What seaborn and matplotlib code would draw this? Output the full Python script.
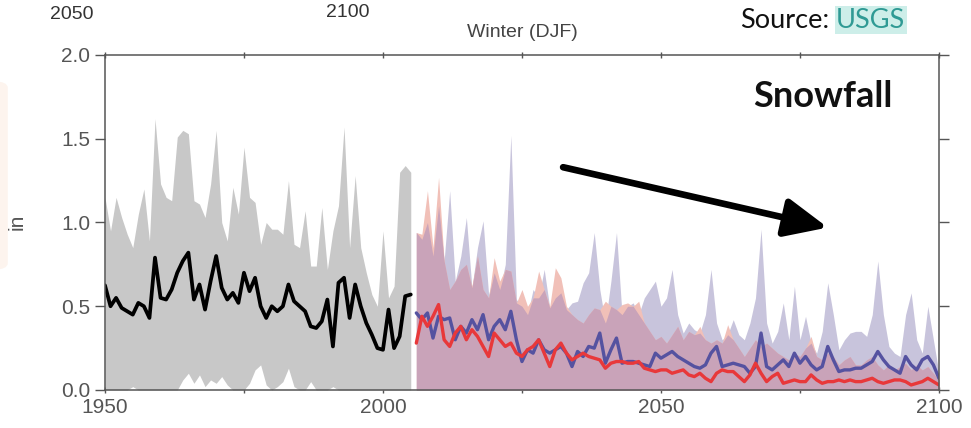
import numpy as np
import pandas as pd
import seaborn as sns
import matplotlib.pyplot as plt
from matplotlib.lines import Line2D
from matplotlib.patches import FancyBboxPatch

# historical period 1950-2005
hist_years = np.arange(1950, 2006)
hist_mean = [0.625, 0.50, 0.55, 0.49, 0.47, 0.45, 0.52, 0.50, 0.43, 0.79,
             0.55, 0.54, 0.60, 0.70, 0.77, 0.82, 0.54, 0.63, 0.48, 0.65,
             0.80, 0.61, 0.54, 0.58, 0.52, 0.70, 0.59, 0.67, 0.50, 0.43,
             0.50, 0.47, 0.50, 0.63, 0.53, 0.50, 0.47, 0.38, 0.37, 0.41,
             0.54, 0.26, 0.64, 0.67, 0.43, 0.63, 0.50, 0.40, 0.33, 0.25,
             0.24, 0.48, 0.25, 0.32, 0.56, 0.57]
hist_high = [1.15, 0.95, 1.15, 1.03, 0.93, 0.85, 1.05, 1.20, 0.89, 1.62,
             1.23, 1.15, 1.13, 1.51, 1.55, 1.53, 1.13, 1.11, 1.03, 1.23,
             1.55, 1.00, 0.89, 1.21, 1.05, 1.45, 1.15, 1.12, 0.87, 1.00,
             0.96, 0.96, 0.93, 1.25, 0.87, 0.85, 1.07, 0.74, 0.74, 1.09,
             0.72, 0.95, 1.10, 1.57, 0.85, 1.28, 0.85, 0.70, 0.57, 0.50,
             0.95, 0.55, 0.62, 1.30, 1.34, 1.30]
hist_low = [0, 0, 0, 0, 0, 0.02, 0, 0, 0, 0,
            0, 0, 0, 0, 0.06, 0.10, 0.04, 0.09, 0.02, 0.06,
            0.04, 0.08, 0.03, 0, 0, 0, 0.04, 0.12, 0.15, 0.03,
            0, 0.02, 0.05, 0.13, 0.02, 0, 0, 0.05, 0, 0,
            0, 0.02, 0, 0, 0, 0, 0, 0, 0, 0,
            0, 0, 0, 0, 0, 0]

# projections 2006-2100
fut_years = np.arange(2006, 2101)
blue_mean = [0.46, 0.42, 0.46, 0.31, 0.44, 0.42, 0.43, 0.30, 0.38, 0.34,
             0.42, 0.36, 0.45, 0.30, 0.38, 0.42, 0.36, 0.47, 0.30, 0.17,
             0.24, 0.22, 0.30, 0.24, 0.22, 0.24, 0.26, 0.22, 0.14, 0.23,
             0.20, 0.26, 0.25, 0.34, 0.16, 0.24, 0.31, 0.16, 0.17, 0.17,
             0.16, 0.15, 0.14, 0.22, 0.19, 0.21, 0.23, 0.20, 0.18, 0.16,
             0.14, 0.13, 0.15, 0.22, 0.26, 0.14, 0.15, 0.16, 0.15, 0.14,
             0.10, 0.14, 0.34, 0.14, 0.12, 0.15, 0.18, 0.14, 0.22, 0.16,
             0.20, 0.15, 0.12, 0.14, 0.26, 0.18, 0.11, 0.12, 0.12, 0.13,
             0.13, 0.15, 0.17, 0.23, 0.18, 0.14, 0.12, 0.10, 0.20, 0.15,
             0.12, 0.18, 0.20, 0.15, 0.07]
red_mean = [0.28, 0.44, 0.38, 0.44, 0.51, 0.30, 0.26, 0.34, 0.38, 0.30,
            0.36, 0.32, 0.26, 0.20, 0.34, 0.30, 0.26, 0.28, 0.22, 0.20,
            0.24, 0.26, 0.30, 0.22, 0.14, 0.24, 0.28, 0.22, 0.18, 0.20,
            0.22, 0.20, 0.19, 0.18, 0.13, 0.16, 0.17, 0.17, 0.16, 0.16,
            0.17, 0.13, 0.12, 0.11, 0.12, 0.12, 0.10, 0.11, 0.12, 0.09,
            0.08, 0.10, 0.07, 0.05, 0.10, 0.12, 0.11, 0.11, 0.08, 0.05,
            0.09, 0.16, 0.10, 0.05, 0.08, 0.10, 0.04, 0.05, 0.06, 0.05,
            0.05, 0.09, 0.06, 0.04, 0.05, 0.05, 0.06, 0.05, 0.06, 0.05,
            0.05, 0.06, 0.07, 0.05, 0.04, 0.05, 0.06, 0.06, 0.05, 0.03,
            0.04, 0.05, 0.07, 0.05, 0.03]
blue_high = [0.94, 0.90, 1.00, 0.80, 1.10, 0.77, 1.19, 0.65, 0.80, 1.03,
             0.61, 0.85, 1.01, 0.57, 0.70, 0.60, 0.75, 1.52, 0.54, 0.50,
             0.45, 0.60, 0.55, 0.72, 0.49, 0.55, 0.58, 0.48, 0.52, 0.53,
             0.64, 0.70, 0.94, 0.60, 0.40, 0.65, 0.94, 0.45, 0.50, 0.52,
             0.45, 0.55, 0.60, 0.65, 0.50, 0.55, 0.72, 0.45, 0.34, 0.40,
             0.36, 0.34, 0.45, 0.72, 0.40, 0.30, 0.33, 0.42, 0.33, 0.30,
             0.40, 0.55, 0.96, 0.40, 0.28, 0.35, 0.52, 0.30, 0.62, 0.30,
             0.44, 0.28, 0.22, 0.35, 0.64, 0.45, 0.24, 0.30, 0.34, 0.35,
             0.35, 0.32, 0.45, 0.77, 0.45, 0.26, 0.22, 0.20, 0.45, 0.58,
             0.30, 0.22, 0.50, 0.30, 0.10]
red_high = [0.94, 0.93, 1.19, 0.85, 1.27, 0.77, 0.60, 0.65, 0.72, 0.75,
            0.62, 0.80, 0.60, 0.55, 0.79, 0.65, 0.72, 0.71, 0.52, 0.60,
            0.50, 0.55, 0.71, 0.60, 0.50, 0.73, 0.67, 0.50, 0.45, 0.42,
            0.40, 0.45, 0.49, 0.48, 0.53, 0.50, 0.48, 0.51, 0.52, 0.50,
            0.53, 0.40, 0.35, 0.30, 0.32, 0.28, 0.33, 0.38, 0.30, 0.35,
            0.33, 0.38, 0.30, 0.28, 0.30, 0.28, 0.39, 0.30, 0.25, 0.20,
            0.25, 0.30, 0.26, 0.28, 0.25, 0.22, 0.20, 0.18, 0.22, 0.20,
            0.25, 0.32, 0.20, 0.18, 0.22, 0.20, 0.15, 0.18, 0.20, 0.15,
            0.15, 0.18, 0.20, 0.15, 0.12, 0.15, 0.12, 0.14, 0.16, 0.12,
            0.15, 0.12, 0.14, 0.10, 0.06]

sns.set_style('ticks')
plt.rcParams['font.family'] = ['Liberation Sans', 'DejaVu Sans']

fig = plt.figure(figsize=(9.71, 4.28), dpi=100)
ax = fig.add_axes([0.1081, 0.0888, 0.8589, 0.7827])

# shaded ranges
ax.fill_between(hist_years, hist_low, hist_high, color='#c8c8c8', lw=0)
both = np.minimum(blue_high, red_high)
ax.fill_between(fut_years, 0, blue_high, color='#c8c4dc', lw=0)
ax.fill_between(fut_years, 0, red_high, color='#f1c0b8', lw=0)
ax.fill_between(fut_years, 0, both, color='#c9a3b9', lw=0)

# mean lines
hist = pd.DataFrame({'year': hist_years, 'val': hist_mean})
fut = pd.DataFrame({'year': fut_years, 'blue': blue_mean, 'red': red_mean})
sns.lineplot(data=hist, x='year', y='val', color='black', lw=2.7, ax=ax)
sns.lineplot(data=fut, x='year', y='blue', color='#5552a0', lw=2.4, ax=ax)
sns.lineplot(data=fut, x='year', y='red', color='#e8383a', lw=2.4, ax=ax)

ax.set_xlim(1950, 2100)
ax.set_ylim(0, 2.0)
ax.set_xticks([1950, 2000, 2050, 2100])
ax.set_xticks([1975, 2025, 2075], minor=True)
ax.set_yticks([0, 0.5, 1.0, 1.5, 2.0])
ax.set_yticklabels(['0.0', '0.5', '1.0', '1.5', '2.0'])
ax.set_xlabel('')
ax.set_ylabel('')
for s in ax.spines.values():
    s.set_visible(True)
    s.set_color('#555555')
    s.set_linewidth(1.1)
ax.tick_params(axis='both', which='both', direction='out', color='#555555',
               labelcolor='#555555', labelsize=15, top=True, right=True,
               width=1.0, length=5)
ax.tick_params(axis='y', which='major', right=True, labelright=False, length=7)
ax.tick_params(axis='x', which='both', top=True, labeltop=False, direction='inout')

# annotations
ax.annotate('', xy=(2080, 0.97), xytext=(2032.4, 1.33),
            arrowprops=dict(arrowstyle='-|>,head_length=1.0,head_width=0.45',
                            lw=4.8, color='black', mutation_scale=26,
                            shrinkA=0, shrinkB=0))
fig.text(0.8475, 0.775, 'Snowfall', family=['Lato', 'DejaVu Sans'],
         weight='bold', fontsize=26, ha='center', va='center', color='#111111')

fig.text(0.5376, 0.923, 'Winter (DJF)', fontsize=14, color='#444444',
         ha='center', va='center')
fig.text(0.074, 0.965, '2050', fontsize=14, color='#333333', ha='center', va='center')
fig.text(0.358, 0.970, '2100', fontsize=14, color='#333333', ha='center', va='center')
fig.text(0.018, 0.481, 'in', fontsize=15, color='#555555', rotation=90,
         ha='center', va='center')

fig.text(0.854, 0.953, 'Source:', family=['Lato', 'DejaVu Sans'], fontsize=19.5,
         ha='right', va='center', color='#111111')
usgs = fig.text(0.861, 0.953, 'USGS', family=['Lato', 'DejaVu Sans'], fontsize=19.5,
                ha='left', va='center', color='#2f9a94',
                bbox=dict(boxstyle='square,pad=0.05', fc='#cdeee9', ec='none'))

# faint bracket on the left edge
fig.patches.append(FancyBboxPatch((-0.02, 0.37), 0.028, 0.44,
                                  boxstyle='round,pad=0,rounding_size=0.015',
                                  transform=fig.transFigure, fc='#fdf4ee',
                                  ec='none', zorder=0))

fig.canvas.draw()
bb = usgs.get_window_extent().transformed(fig.transFigure.inverted())
fig.add_artist(Line2D([bb.x0, bb.x1], [bb.y0 + 0.004, bb.y0 + 0.004],
                      transform=fig.transFigure, color='#2f9a94', lw=1.2))

fig.savefig('out.png', dpi=100)
